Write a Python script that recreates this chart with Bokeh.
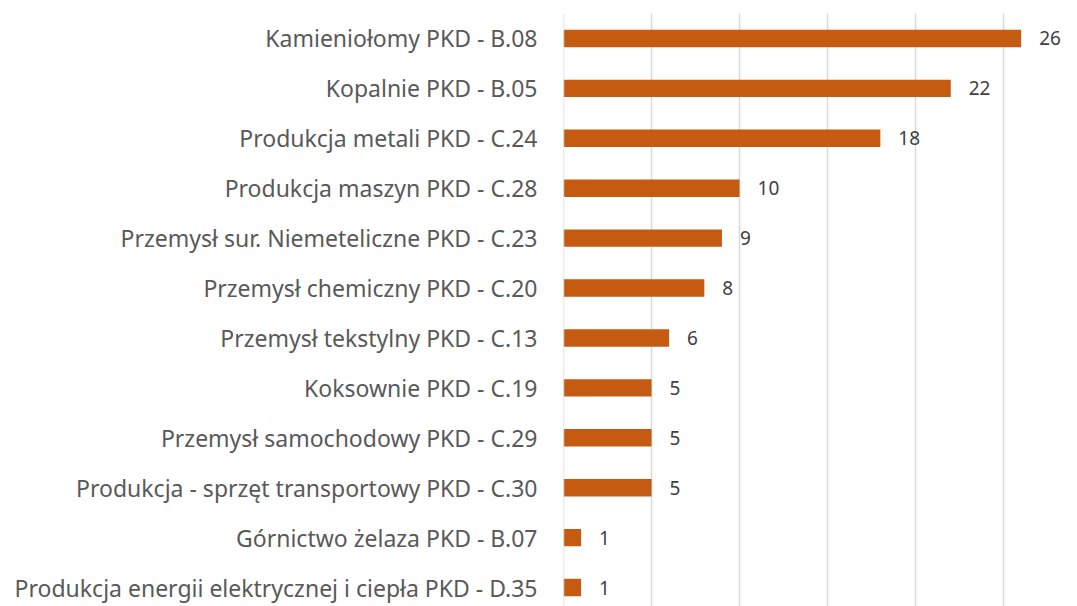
import numpy as np
from bokeh.plotting import figure
from bokeh.models import ColumnDataSource, Range1d, FixedTicker, LabelSet, Span
from bokeh.core.properties import value
from bokeh.embed import file_html
from bokeh.resources import INLINE

categories = [
    "Kamieniołomy PKD - B.08",
    "Kopalnie PKD - B.05",
    "Produkcja metali PKD - C.24",
    "Produkcja maszyn PKD - C.28",
    "Przemysł sur. Niemeteliczne PKD - C.23",
    "Przemysł chemiczny PKD - C.20",
    "Przemysł tekstylny PKD - C.13",
    "Koksownie PKD - C.19",
    "Przemysł samochodowy PKD - C.29",
    "Produkcja - sprzęt transportowy PKD - C.30",
    "Górnictwo żelaza PKD - B.07",
    "Produkcja energii elektrycznej i ciepła PKD - D.35",
]
values = [26, 22, 18, 10, 9, 8, 6, 5, 5, 5, 1, 1]
grid_ticks = [0, 5, 10, 15, 20, 25]

n = len(categories)
pos = list(range(n))
src = ColumnDataSource(dict(y=pos, v=values, lab=[str(v) for v in values]))

p = figure(width=1077, height=606, output_backend="svg", toolbar_location=None,
           x_range=Range1d(0, 29.2), y_range=Range1d(n - 1 + 0.38, -0.5),
           min_border_left=563, min_border_right=0, min_border_top=13, min_border_bottom=0)
p.outline_line_color = None
p.background_fill_color = "white"
p.border_fill_color = "white"

p.xaxis.visible = False
p.xaxis.ticker = FixedTicker(ticks=grid_ticks)
p.xgrid.ticker = FixedTicker(ticks=grid_ticks)
p.xgrid.grid_line_color = "#d9d9d9"
p.xgrid.grid_line_width = 1.5
p.ygrid.grid_line_color = None
p.add_layout(Span(location=0, dimension="height", line_color="#d9d9d9", line_width=1.5))

p.hbar(y="y", right="v", left=0, height=0.35, source=src, fill_color="#C55A11", line_color=None)

labels = LabelSet(x="v", y="y", text="lab", source=src, x_offset=18, y_offset=0,
                  text_baseline="middle", text_font=value("Noto Sans"), text_font_size="19px",
                  text_color="#404040")
p.add_layout(labels)

p.yaxis.ticker = FixedTicker(ticks=pos)
p.yaxis.major_label_overrides = {i: c for i, c in enumerate(categories)}
p.yaxis.axis_line_color = None
p.yaxis.major_tick_line_color = None
p.yaxis.minor_tick_line_color = None
p.yaxis.major_label_standoff = 20
p.yaxis.major_label_text_font = "Noto Sans"
p.yaxis.major_label_text_font_size = "23px"
p.yaxis.major_label_text_color = "#595959"

open("out.html", "w").write(file_html(p, INLINE))
